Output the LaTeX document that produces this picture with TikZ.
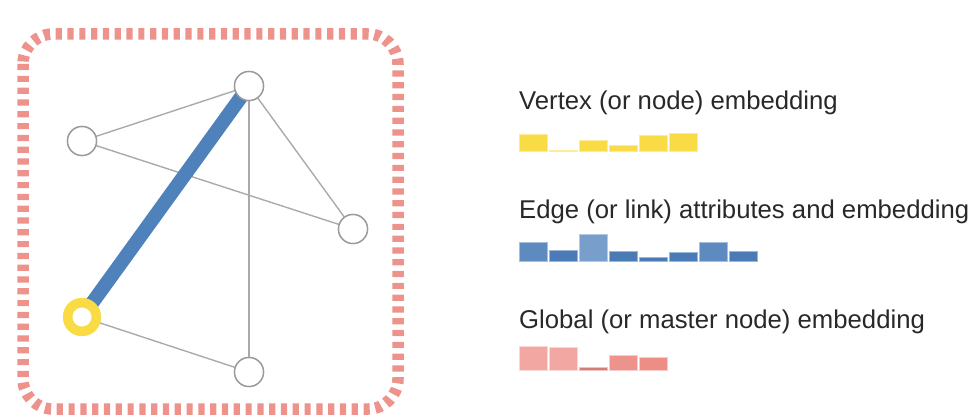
\documentclass[tikz,border=0pt]{standalone}
\usepackage{fontspec}
\setmainfont{Liberation Sans}
\definecolor{bordercol}{RGB}{238,146,140}
\definecolor{yel}{RGB}{249,220,69}
\definecolor{blueedge}{RGB}{79,129,187}
\definecolor{bdark}{RGB}{74,123,182}
\definecolor{bmid}{RGB}{93,139,192}
\definecolor{blight}{RGB}{120,159,203}
\definecolor{plight}{RGB}{242,167,162}
\definecolor{pmid}{RGB}{238,147,140}
\definecolor{pmid2}{RGB}{236,141,134}
\definecolor{pdark}{RGB}{213,125,122}
\definecolor{edgegray}{RGB}{170,170,170}
\definecolor{nodegray}{RGB}{155,155,155}
\definecolor{txt}{RGB}{40,40,40}
\begin{document}
\begin{tikzpicture}[x=1pt,y=-1pt,
  vert/.style={circle,draw=nodegray,line width=1.4pt,fill=white,minimum size=29pt,inner sep=0pt},
  yvert/.style={circle,draw=yel,line width=9.5pt,fill=white,minimum size=28.6pt,inner sep=0pt},
  gedge/.style={draw=edgegray,line width=1.4pt},
  bedge/.style={draw=blueedge,line width=14pt},
  lab/.style={anchor=base west,inner sep=0pt,text=txt,font=\fontsize{25.7}{30}\selectfont},
  bar/.style={line width=0.8pt}
]
\useasboundingbox (0,0) rectangle (980,420);
% border
\draw[draw=bordercol,line width=11.5pt,dash pattern=on 6.2pt off 5.6pt,rounded corners=30pt] (23,34) rectangle (398,409);
% nodes (placed first so edges can refer to them)
\node[vert] (t) at (249,86) {};
\node[vert] (l) at (82,141) {};
\node[vert] (r) at (353,229) {};
\node[vert] (b) at (249,372) {};
\node[yvert] (y) at (82,317) {};
% edges
\path[gedge] (t.center) -- (l.center);
\path[gedge] (l.center) -- (r.center);
\path[gedge] (t.center) -- (r.center);
\path[gedge] (t.center) -- (b.center);
\path[gedge] (y.center) -- (b.center);
\path[bedge] (y.center) -- (t.center);
% nodes drawn again over the edges
\node[vert] at (t) {};
\node[vert] at (l) {};
\node[vert] at (r) {};
\node[vert] at (b) {};
\node[yvert] at (y) {};
% labels
\node[lab] (lv) at (519,110) {Vertex (or node) embedding};
\node[lab] (le) at (519,218) {Edge (or link) attributes and embedding};
\node[lab] (lg) at (519,328) {Global (or master node) embedding};
% vertex bars
\foreach \i/\h in {0/134,1/150.7,2/140,3/145.7,4/135,5/133.3}{
  \filldraw[bar,fill=yel,draw=yel!55!white] ({519+30*\i},\h) rectangle ({547.5+30*\i},151.7);
}
% edge bars
\foreach \i/\h/\c in {0/242.3/bmid,1/250.3/bdark,2/234/blight,3/251/bdark,4/257/bdark,5/252.3/bdark,6/242/bmid,7/251/bdark}{
  \filldraw[bar,fill=\c,draw=\c!55!white] ({519+30*\i},\h) rectangle ({547.5+30*\i},261);
}
% global bars
\foreach \i/\h/\c in {0/346.7/plight,1/347.3/plight,2/367.7/pdark,3/355/pmid,4/357.3/pmid2}{
  \filldraw[bar,fill=\c,draw=\c!45!white] ({519+30*\i},\h) rectangle ({547.5+30*\i},370);
}
\end{tikzpicture}
\end{document}
